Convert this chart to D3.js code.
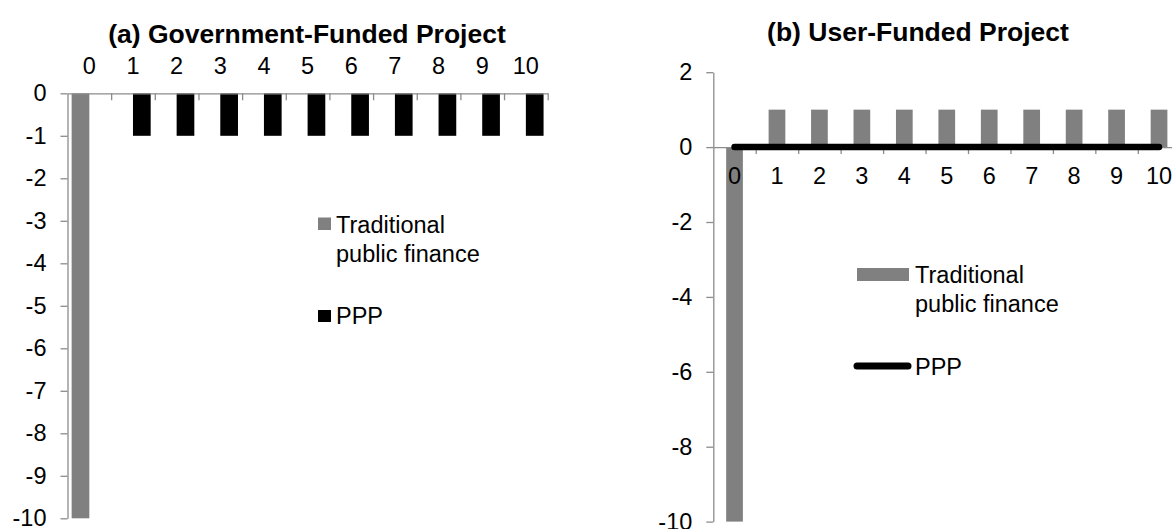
<!DOCTYPE html>
<html>
<head>
<meta charset="utf-8">
<script src="https://cdn.jsdelivr.net/npm/d3@7"></script>
<style>
  html, body { margin: 0; padding: 0; background: #fff; }
  svg { display: block; font-family: "Liberation Sans", Arial, sans-serif; }
</style>
</head>
<body>
<svg id="chart" width="1172" height="529"></svg>
<script>
// ---- data ----
const categories = [0, 1, 2, 3, 4, 5, 6, 7, 8, 9, 10];
const seriesNames = ["Traditional public finance", "PPP"];
const govTraditional = [-10, 0, 0, 0, 0, 0, 0, 0, 0, 0, 0];
const govPPP = [0, -1, -1, -1, -1, -1, -1, -1, -1, -1, -1];
const userTraditional = [-10, 1, 1, 1, 1, 1, 1, 1, 1, 1, 1];
const userPPP = [0, 0, 0, 0, 0, 0, 0, 0, 0, 0, 0];
const govYTicks = [0, -1, -2, -3, -4, -5, -6, -7, -8, -9, -10];
const userYTicks = [2, 0, -2, -4, -6, -8, -10];
const titles = ["(a) Government-Funded Project", "(b) User-Funded Project"];

// ---- styles ----
const GRAY = "#808080", BLACK = "#000000", AXIS = "#8c8c8c";
const FS = 23.5;
const fmt = d => String(d); // plain hyphen-minus like the reference

const svg = d3.select("#chart");

function styleAxis(g) {
  g.selectAll("path, line").attr("stroke", AXIS).attr("stroke-width", 1.3);
  g.selectAll("text").attr("fill", "#000").style("font-size", FS + "px")
    .style("font-family", '"Liberation Sans", Arial, sans-serif');
}

// ================= Panel (a) =================
{
  const x0 = 67.5, x1 = 547.7;
  const y = d3.scaleLinear().domain([-10, 0]).range([518.3, 93.3]);
  const xb = d3.scaleBand().domain(categories).range([x0, x1]).padding(0);
  const xs = d3.scaleBand().domain(seriesNames).range([0, xb.bandwidth()]).paddingInner(0).paddingOuter(0.234);
  const xl = d3.scaleLinear().domain([0, categories.length]).range([x0, x1]);

  // bars
  const rows = categories.map((c, i) => ({ c, vals: [govTraditional[i], govPPP[i]] }));
  const grp = svg.append("g");
  rows.forEach(r => {
    r.vals.forEach((v, k) => {
      grp.append("rect")
        .attr("x", xb(r.c) + xs(seriesNames[k]))
        .attr("width", xs.bandwidth())
        .attr("y", y(Math.max(0, v)))
        .attr("height", Math.abs(y(v) - y(0)))
        .attr("fill", k === 0 ? GRAY : BLACK);
    });
  });

  // y axis
  const ya = svg.append("g").attr("transform", `translate(${x0},0)`)
    .call(d3.axisLeft(y).tickValues(govYTicks).tickFormat(fmt).tickSize(7).tickSizeOuter(0).tickPadding(14));
  styleAxis(ya);

  // x axis (boundary ticks)
  const xa = svg.append("g").attr("transform", `translate(0,${y(0)})`)
    .call(d3.axisBottom(xl).tickValues(d3.range(1, categories.length + 1)).tickFormat("").tickSize(7).tickSizeOuter(0));
  styleAxis(xa);

  // category labels on top
  svg.append("g").selectAll("text").data(categories).join("text")
    .attr("x", d => xb(d) + xb.bandwidth() / 2)
    .attr("y", 74)
    .attr("text-anchor", "middle")
    .style("font-size", FS + "px")
    .text(d => d);

  // title
  svg.append("text").attr("x", 307).attr("y", 43).attr("text-anchor", "middle")
    .style("font-size", "26.5px").style("font-weight", "bold").text(titles[0]);

  // legend
  const lg = svg.append("g");
  lg.append("rect").attr("x", 318).attr("y", 217.5).attr("width", 13).attr("height", 12.5).attr("fill", GRAY);
  lg.append("text").attr("x", 336).attr("y", 233).style("font-size", FS + "px").text("Traditional");
  lg.append("text").attr("x", 336).attr("y", 261.5).style("font-size", FS + "px").text("public finance");
  lg.append("rect").attr("x", 318).attr("y", 310).attr("width", 13).attr("height", 12).attr("fill", BLACK);
  lg.append("text").attr("x", 336).attr("y", 323.5).style("font-size", FS + "px").text("PPP");
}

// ================= Panel (b) =================
{
  const x0 = 713.3, step = 42.45, x1 = x0 + step * categories.length;
  const y = d3.scaleLinear().domain([-10, 2]).range([521.6, 72.2]);
  const xb = d3.scaleBand().domain(categories).range([x0, x1]).padding(0);
  const xs = d3.scaleBand().domain([seriesNames[0]]).range([0, xb.bandwidth()]).paddingOuter(0.77);
  const xl = d3.scaleLinear().domain([0, categories.length]).range([x0, x1]);

  // bars
  svg.append("g").selectAll("rect").data(categories).join("rect")
    .attr("x", d => xb(d) + xs(seriesNames[0]))
    .attr("width", xs.bandwidth())
    .attr("y", (d, i) => y(Math.max(0, userTraditional[i])))
    .attr("height", (d, i) => Math.abs(y(userTraditional[i]) - y(0)))
    .attr("fill", GRAY);

  // y axis
  const ya = svg.append("g").attr("transform", `translate(${x0},0)`)
    .call(d3.axisLeft(y).tickValues(userYTicks).tickFormat(fmt).tickSize(7).tickSizeOuter(0).tickPadding(14));
  styleAxis(ya);

  // x axis
  const xa = svg.append("g").attr("transform", `translate(0,${y(0)})`)
    .call(d3.axisBottom(xl).tickValues(d3.range(1, categories.length + 1)).tickFormat("").tickSize(7).tickSizeOuter(0));
  styleAxis(xa);

  // labels below axis
  svg.append("g").selectAll("text").data(categories).join("text")
    .attr("x", d => xb(d) + xb.bandwidth() / 2)
    .attr("y", 183.5)
    .attr("text-anchor", "middle")
    .style("font-size", FS + "px")
    .text(d => d);

  // PPP line
  const line = d3.line().x((d, i) => xb(categories[i]) + xb.bandwidth() / 2).y(d => y(d));
  svg.append("path").datum(userPPP).attr("d", line)
    .attr("fill", "none").attr("stroke", BLACK).attr("stroke-width", 6.5)
    .attr("stroke-linecap", "round").attr("stroke-linejoin", "round");

  // title
  svg.append("text").attr("x", 918).attr("y", 41).attr("text-anchor", "middle")
    .style("font-size", "26.5px").style("font-weight", "bold").text(titles[1]);

  // legend
  const lg = svg.append("g");
  lg.append("rect").attr("x", 857).attr("y", 268).attr("width", 52).attr("height", 13).attr("fill", GRAY);
  lg.append("text").attr("x", 915).attr("y", 283).style("font-size", FS + "px").text("Traditional");
  lg.append("text").attr("x", 915).attr("y", 311.5).style("font-size", FS + "px").text("public finance");
  lg.append("line").attr("x1", 857).attr("x2", 908).attr("y1", 366).attr("y2", 366)
    .attr("stroke", BLACK).attr("stroke-width", 7).attr("stroke-linecap", "round");
  lg.append("text").attr("x", 915).attr("y", 375).style("font-size", FS + "px").text("PPP");
}
</script>
</body>
</html>
